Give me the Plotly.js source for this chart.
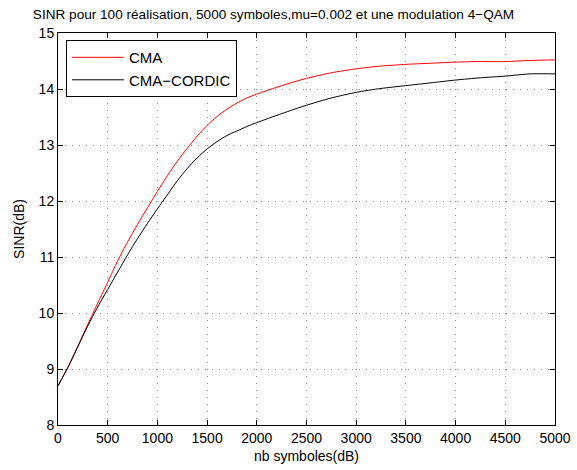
<!DOCTYPE html>
<html>
<head>
<meta charset="utf-8">
<script src="https://cdn.plot.ly/plotly-3.0.1.min.js"></script>
<style>html,body{margin:0;padding:0;background:#fff;}#chart{width:577px;height:470px;}</style>
</head>
<body>
<div id="chart"></div>
<script>
const xCMA = [0,100,200,300,400,500,600,700,800,900,1000,1100,1200,1300,1400,1500,1600,1700,1800,1900,2000,2250,2500,2750,3000,3250,3500,3750,4000,4250,4500,4750,5000];
const yCMA = [8.70,9.03,9.41,9.80,10.18,10.55,10.93,11.27,11.58,11.88,12.17,12.45,12.71,12.94,13.16,13.35,13.51,13.64,13.75,13.84,13.91,14.06,14.19,14.29,14.36,14.41,14.44,14.46,14.48,14.49,14.49,14.51,14.52];
const xCORDIC = [0,100,200,300,400,500,600,700,800,900,1000,1100,1200,1300,1400,1500,1600,1700,1800,1900,2000,2250,2500,2750,3000,3250,3500,3750,4000,4250,4500,4750,5000];
const yCORDIC = [8.70,9.03,9.40,9.77,10.11,10.42,10.73,11.04,11.33,11.60,11.86,12.11,12.36,12.58,12.77,12.93,13.06,13.17,13.25,13.33,13.40,13.56,13.71,13.84,13.94,14.01,14.06,14.11,14.16,14.20,14.23,14.27,14.27];
const seriesNames = ['CMA','CMA\u2212CORDIC'];
const xTicks = [0,500,1000,1500,2000,2500,3000,3500,4000,4500,5000];
const yTicks = [8,9,10,11,12,13,14,15];

const traces = [
  {x:xCMA, y:yCMA, name:seriesNames[0], type:'scatter', mode:'lines', line:{color:'#ff0000', width:1, shape:'spline', smoothing:0.7}},
  {x:xCORDIC, y:yCORDIC, name:seriesNames[1], type:'scatter', mode:'lines', line:{color:'#000000', width:1, shape:'spline', smoothing:0.7}}
];

const axisCommon = {
  showline:true, linecolor:'#000', linewidth:1, mirror:'ticks',
  ticks:'inside', ticklen:5, tickcolor:'#000', tickwidth:1,
  showgrid:true, gridcolor:'#8a8a8a', griddash:'1px,6px', gridwidth:1,
  zeroline:false, tickfont:{family:'Liberation Sans, Arial', size:14, color:'#000'}
};

const layout = {
  width:577, height:470,
  margin:{l:58, r:22, t:33, b:45},
  paper_bgcolor:'#fff', plot_bgcolor:'#fff',
  font:{family:'Liberation Sans, Arial', size:14, color:'#000'},
  title:{text:'SINR pour 100 réalisation, 5000 symboles,mu=0.002 et une modulation 4\u2212QAM', font:{size:13.6, family:'Liberation Sans, Arial', color:'#000'}, x:0.474, xanchor:'center', y:0.97, yanchor:'middle'},
  xaxis:Object.assign({}, axisCommon, {range:[0,5000], tickvals:xTicks, ticktext:xTicks.map(String), title:{text:'nb symboles(dB)', font:{size:14}, standoff:6}}),
  yaxis:Object.assign({}, axisCommon, {range:[8,15], tickvals:yTicks, ticktext:yTicks.map(String), title:{text:'SINR(dB)', font:{size:14}, standoff:10}}),
  showlegend:true,
  legend:{x:0.016, y:0.982, xanchor:'left', yanchor:'top', bgcolor:'#fff', bordercolor:'#000', borderwidth:1, font:{size:15, family:'Liberation Sans, Arial'}, tracegroupgap:0, itemwidth:52}
};

Plotly.newPlot('chart', traces, layout, {staticPlot:true, displayModeBar:false});
</script>
</body>
</html>
